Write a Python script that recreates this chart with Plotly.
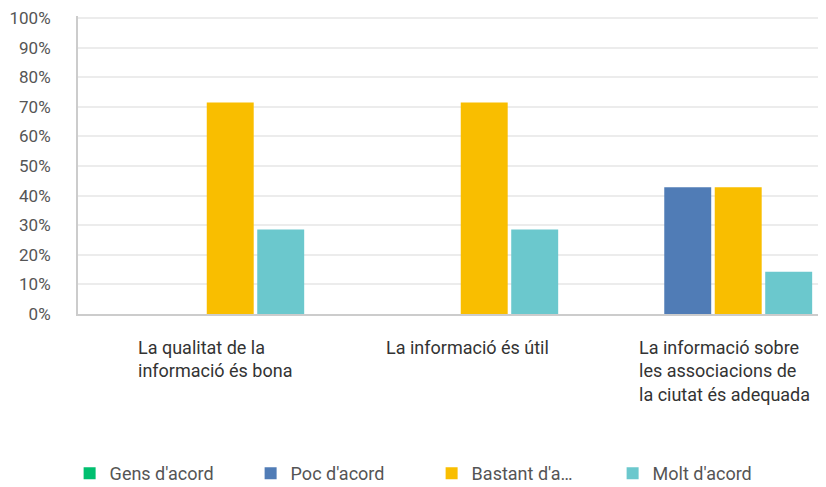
import plotly.graph_objects as go

categories = [
    "La qualitat de la<br>informació és bona",
    "La informació és útil",
    "La informació sobre<br>les associacions de<br>la ciutat és adequada",
]
series_names = ["Gens d'acord", "Poc d'acord", "Bastant d'a…", "Molt d'acord"]
series_values = [
    [0.0, 0.0, 0.0],
    [0.0, 0.0, 42.86],
    [71.43, 71.43, 42.86],
    [28.57, 28.57, 14.29],
]
series_colors = ["#00bf6f", "#507cb6", "#f9be00", "#6bc8cd"]
y_ticks = [0, 10, 20, 30, 40, 50, 60, 70, 80, 90, 100]
y_tick_labels = [f"{v}%" for v in y_ticks]
label_shifts = [-69, -75, -76]

fig = go.Figure()
for name, vals, col in zip(series_names, series_values, series_colors):
    fig.add_trace(go.Bar(x=categories, y=vals, name=name, marker_color=col,
                         marker_line_width=0))

for cat, sh in zip(categories, label_shifts):
    fig.add_annotation(x=cat, xref="x", y=0, yref="paper", yanchor="top",
                       yshift=-21, xanchor="left", xshift=sh, align="left",
                       text=cat, showarrow=False,
                       font=dict(family="Roboto", size=18, color="#333333"))

fig.update_layout(
    width=826, height=487,
    margin=dict(l=70, r=8, t=8, b=181, autoexpand=False),
    paper_bgcolor="white", plot_bgcolor="white",
    barmode="group", bargap=0.205, bargroupgap=0.07,
    font=dict(family="Roboto", size=17, color="#555555"),
    showlegend=True,
    legend=dict(orientation="h", xref="container", yref="container",
                x=0.0746, xanchor="left", y=0.082, yanchor="top",
                entrywidth=136, entrywidthmode="pixels",
                font=dict(family="Roboto", size=18, color="#555555"),
                traceorder="normal"),
)
fig.update_xaxes(range=[-0.5, 2.445], showticklabels=False, showgrid=False,
                 showline=True, linecolor="#cccccc", linewidth=2, zeroline=False,
                 fixedrange=True, automargin=False)
fig.update_yaxes(range=[0, 100.7], tickvals=y_ticks, ticktext=y_tick_labels,
                 showgrid=True, gridcolor="#ececec", gridwidth=2,
                 showline=True, linecolor="#cccccc", linewidth=2, zeroline=False,
                 automargin=False, ticklabeloverflow="allow",
                 ticklabelstandoff=22, tickfont=dict(size=17, color="#555555"))

fig.write_html("out.html")
